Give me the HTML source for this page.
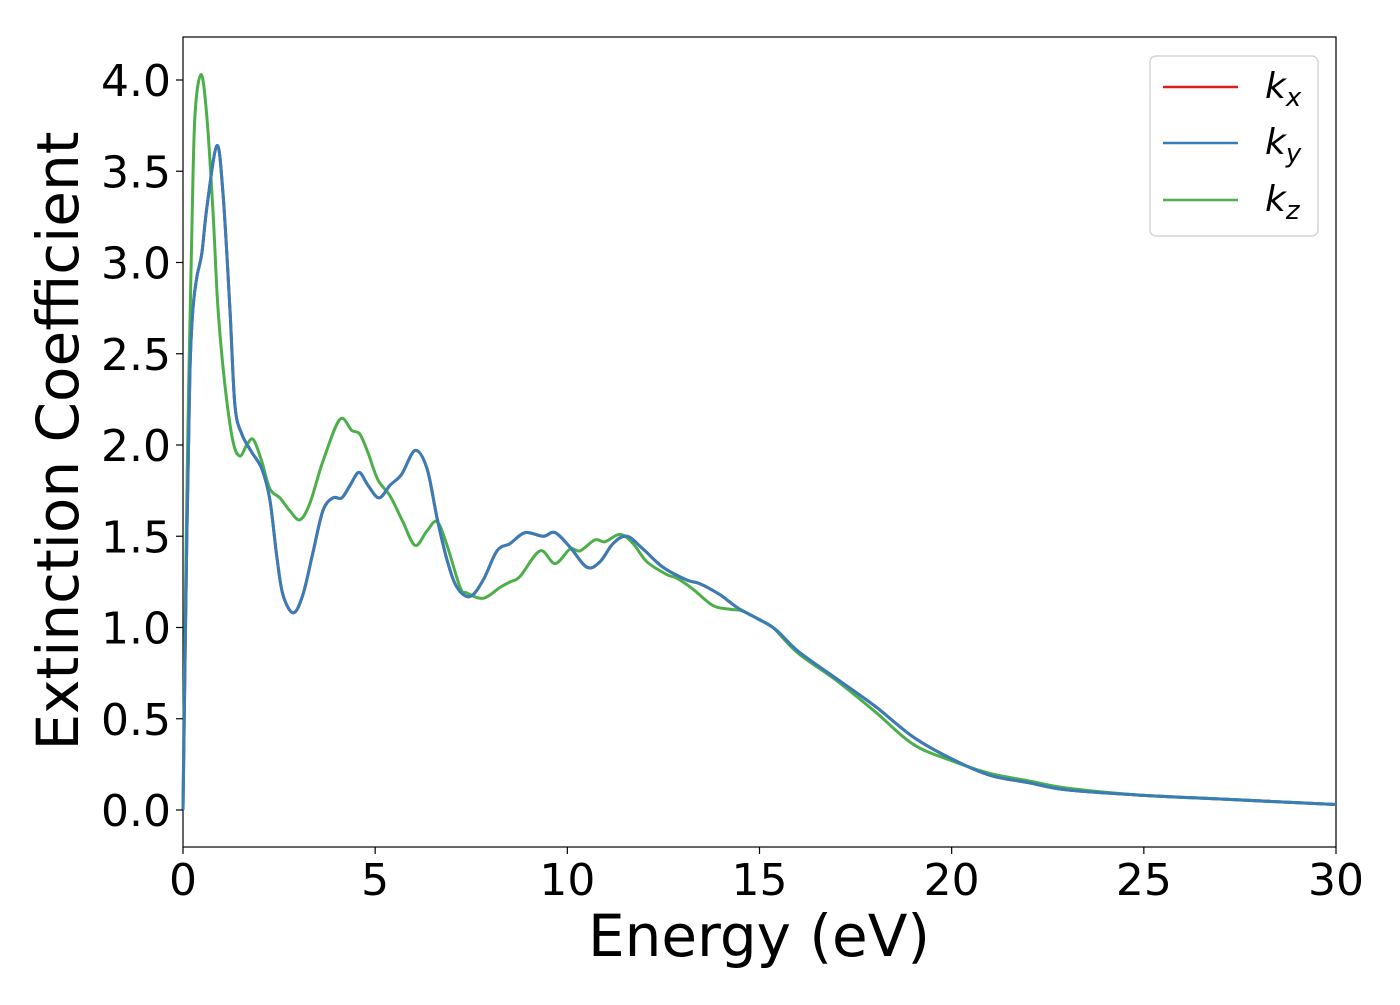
<!DOCTYPE html>
<html><head><meta charset="utf-8"><style>
body{margin:0;background:#fff}
svg{font-family:"DejaVu Sans","Liberation Sans",sans-serif}
</style></head><body>
<svg id="chart" width="1400" height="1000" xmlns="http://www.w3.org/2000/svg">
<rect x="183" y="37" width="1153" height="810" fill="#fff" stroke="#000" stroke-width="1.2"/>
<g id="curves"></g>
<g id="axes"></g>
<text x="759" y="956" font-size="58" text-anchor="middle">Energy (eV)</text>
<text transform="translate(78,441) rotate(-90)" font-size="58" text-anchor="middle">Extinction Coefficient</text>
<g>
<rect x="1150" y="56" width="168" height="180" rx="6" fill="#fff" stroke="#ccc" stroke-width="1.2"/>
<line x1="1163" y1="87" x2="1238" y2="87" stroke="#e41a1c" stroke-width="2.5"/>
<line x1="1163" y1="143" x2="1238" y2="143" stroke="#377eb8" stroke-width="2.5"/>
<line x1="1163" y1="200" x2="1238" y2="200" stroke="#4daf4a" stroke-width="2.5"/>
<text x="1265" y="98" font-size="36" font-style="italic">k<tspan font-size="26" dy="8">x</tspan></text>
<text x="1265" y="154" font-size="36" font-style="italic">k<tspan font-size="26" dy="8">y</tspan></text>
<text x="1265" y="211" font-size="36" font-style="italic">k<tspan font-size="26" dy="8">z</tspan></text>
</g>
</svg>
<script>
const energyXY=[0,0.1,0.18,0.26,0.36,0.49,0.62,0.88,1.04,1.22,1.35,1.53,1.79,2.05,2.26,2.44,2.6,2.87,3.12,3.38,3.64,3.9,4.13,4.35,4.58,4.81,5.1,5.39,5.69,6.04,6.35,6.61,6.87,7.13,7.47,7.81,8.17,8.51,8.9,9.37,9.68,10.07,10.51,10.85,11.19,11.55,11.97,12.49,13.11,13.45,13.97,14.49,15.35,16,17,18,19,20,21,22,23,25,27,30];
const kxValues=[0,1.5,2.4,2.75,2.92,3.05,3.30,3.64,3.38,2.75,2.22,2.06,1.96,1.87,1.70,1.39,1.18,1.08,1.18,1.41,1.64,1.71,1.71,1.78,1.85,1.78,1.71,1.78,1.84,1.97,1.87,1.60,1.37,1.22,1.17,1.26,1.42,1.46,1.52,1.50,1.52,1.44,1.33,1.36,1.46,1.50,1.43,1.33,1.26,1.24,1.18,1.10,1.0,0.87,0.72,0.57,0.40,0.28,0.19,0.15,0.11,0.08,0.06,0.03];
const kyValues=kxValues.slice();
const energyZ=[0,0.05,0.13,0.23,0.31,0.47,0.62,0.78,0.91,1.09,1.3,1.48,1.66,1.83,2.05,2.26,2.52,2.78,3.04,3.3,3.64,4.08,4.39,4.6,4.81,5.07,5.39,5.72,6.04,6.35,6.61,6.87,7.21,7.38,7.81,8.25,8.51,8.77,9.29,9.68,10.07,10.33,10.72,10.98,11.37,11.71,12.07,12.59,12.85,13.27,13.79,14.23,14.57,15.01,15.35,16,17,18,19,20,21,22,23,25,27,30];
const kzValues=[0,0.95,2.12,3.17,3.80,4.03,3.80,3.28,2.75,2.33,2.02,1.94,2.0,2.03,1.91,1.76,1.71,1.64,1.59,1.68,1.91,2.14,2.08,2.06,1.96,1.81,1.72,1.58,1.45,1.53,1.58,1.45,1.22,1.19,1.16,1.22,1.25,1.28,1.42,1.35,1.43,1.42,1.48,1.47,1.51,1.46,1.36,1.29,1.27,1.21,1.12,1.10,1.09,1.04,1.0,0.86,0.71,0.54,0.36,0.27,0.20,0.16,0.12,0.08,0.06,0.03];
const xTicks=[0,5,10,15,20,25,30];
const yTicks=[0.0,0.5,1.0,1.5,2.0,2.5,3.0,3.5,4.0];
const NS="http://www.w3.org/2000/svg";
const xs=v=>183+v*(1153/30);
const ys=v=>810-v*182.5;
function smoothPath(xa,ya){
  const p=xa.map((x,i)=>[xs(x),ys(ya[i])]);
  let d="M"+p[0][0]+","+p[0][1];
  for(let i=0;i<p.length-1;i++){
    const p0=p[Math.max(0,i-1)],p1=p[i],p2=p[i+1],p3=p[Math.min(p.length-1,i+2)];
    const c1=[p1[0]+(p2[0]-p0[0])/6,p1[1]+(p2[1]-p0[1])/6];
    const c2=[p2[0]-(p3[0]-p1[0])/6,p2[1]-(p3[1]-p1[1])/6];
    d+=` C${c1[0]},${c1[1]} ${c2[0]},${c2[1]} ${p2[0]},${p2[1]}`;
  }
  return d;
}
const cg=document.getElementById('curves');
[[energyXY,kxValues,'#e41a1c','line-kx'],[energyZ,kzValues,'#4daf4a','line-kz'],[energyXY,kyValues,'#377eb8','line-ky']].forEach(s=>{
  const path=document.createElementNS(NS,'path');
  path.setAttribute('d',smoothPath(s[0],s[1]));
  path.setAttribute('fill','none');
  path.setAttribute('stroke',s[2]);
  path.setAttribute('stroke-width','3');
  
  
  cg.appendChild(path);
});
const ag=document.getElementById('axes');
xTicks.forEach(t=>{
  const l=document.createElementNS(NS,'line');
  l.setAttribute('x1',xs(t));l.setAttribute('x2',xs(t));l.setAttribute('y1',847);l.setAttribute('y2',854);
  l.setAttribute('stroke','#000');l.setAttribute('stroke-width','1.2');
  
  
  ag.appendChild(l);
  const tx=document.createElementNS(NS,'text');
  tx.setAttribute('x',xs(t));tx.setAttribute('y',895);tx.setAttribute('font-size','44');tx.setAttribute('text-anchor','middle');
  tx.textContent=t;
  
  
  ag.appendChild(tx);
});
yTicks.forEach(t=>{
  const l=document.createElementNS(NS,'line');
  l.setAttribute('x1',176);l.setAttribute('x2',183);l.setAttribute('y1',ys(t));l.setAttribute('y2',ys(t));
  l.setAttribute('stroke','#000');l.setAttribute('stroke-width','1.2');
  
  
  ag.appendChild(l);
  const tx=document.createElementNS(NS,'text');
  tx.setAttribute('x',171);tx.setAttribute('y',ys(t)+16);tx.setAttribute('font-size','44');tx.setAttribute('text-anchor','end');
  tx.textContent=t.toFixed(1);
  
  
  ag.appendChild(tx);
});
</script>
</body></html>
